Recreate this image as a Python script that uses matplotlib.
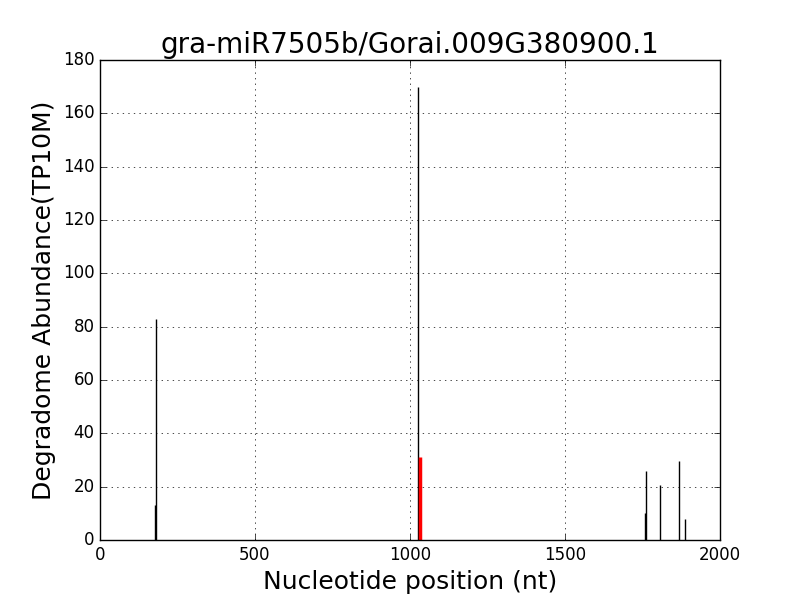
import matplotlib
matplotlib.use('Agg')
import matplotlib.pyplot as plt

# degradome reads (position, abundance)
pos = [179, 181, 1025, 1759, 1761, 1807, 1868, 1888]
abund = [13, 82.7, 169.8, 10, 25.8, 20.5, 29.8, 7.9]

# cleavage site
site_pos = [1031]
site_abund = [31.3]

plt.style.use('classic')
fig = plt.figure(figsize=(8, 6), dpi=100, facecolor='white')
ax = fig.add_subplot(111)

ax.vlines(pos, 0, abund, color='black', linewidth=1)
ax.vlines(site_pos, 0, site_abund, color='red', linewidth=2.5)

ax.set_xlim(0, 2000)
ax.set_ylim(0, 180)
ax.set_xticks([0, 500, 1000, 1500, 2000])
ax.set_yticks(range(0, 181, 20))
ax.grid(True, color='black', linestyle=':')
ax.tick_params(labelsize=12)

ax.set_title('gra-miR7505b/Gorai.009G380900.1', fontsize=20)
ax.set_xlabel('Nucleotide position (nt)', fontsize=18)
ax.set_ylabel('Degradome Abundance(TP10M)', fontsize=18)

fig.savefig('out.png', facecolor='white')
